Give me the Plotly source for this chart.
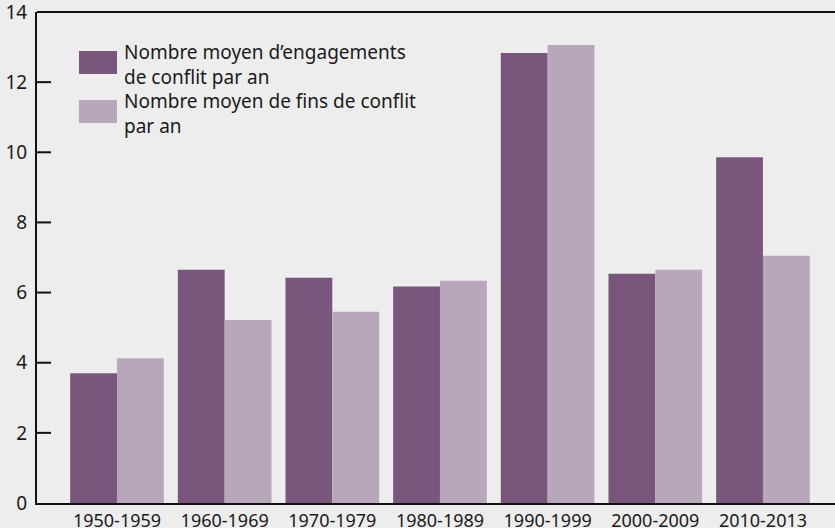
import plotly.graph_objects as go

periods = ["1950-1959", "1960-1969", "1970-1979", "1980-1989", "1990-1999", "2000-2009", "2010-2013"]
engagements = [3.7, 6.65, 6.42, 6.17, 12.83, 6.54, 9.86]
fins = [4.13, 5.22, 5.45, 6.34, 13.06, 6.65, 7.05]
series_names = ["Nombre moyen d’engagements<br>de conflit par an", "Nombre moyen de fins de conflit<br>par an"]
colors = ["#79577c", "#b8a7bb"]
y_ticks = [0, 2, 4, 6, 8, 10, 12, 14]

FONT = "Noto Sans"
BG = "#ededed"
INK = "#1a1a1a"

fig = go.Figure()
fig.add_trace(go.Bar(x=periods, y=engagements, name=series_names[0], marker=dict(color=colors[0], line_width=0)))
fig.add_trace(go.Bar(x=periods, y=fins, name=series_names[1], marker=dict(color=colors[1], line_width=0)))

fig.update_layout(
    width=835, height=528,
    margin=dict(l=37, r=0, t=12, b=25, autoexpand=False),
    paper_bgcolor=BG, plot_bgcolor=BG,
    barmode="group", bargap=0.13, bargroupgap=0,
    showlegend=False,
    font=dict(family=FONT, size=18, color=INK),
    xaxis=dict(range=[-0.743, 6.669], showline=True, linecolor="#111", linewidth=2,
               ticks="", showgrid=False, zeroline=False, tickfont=dict(family=FONT, size=18, color=INK),
               automargin=False),
    yaxis=dict(range=[0, 14], tickmode="array", tickvals=y_ticks, showline=True, linecolor="#111", linewidth=2,
               ticks="", ticklabeloverflow="allow", ticklabelstandoff=4,
               showgrid=False, zeroline=False, tickfont=dict(family=FONT, size=19, color=INK),
               automargin=False),
)

pw = 835 - 37
ph = 528 - 12 - 25
def px(pix):
    return (pix - 37) / pw
def py(pix):
    return 1 - (pix - 12) / ph

# top border line
fig.add_shape(type="line", xref="paper", yref="paper", x0=0, x1=1, y0=1, y1=1,
              line=dict(color="#111", width=2))

# y tick marks (inside), placed at tick values via the y axis
for v in y_ticks[1:-1]:
    fig.add_shape(type="line", xref="paper", yref="y", x0=0, x1=14 / pw, y0=v, y1=v,
                  line=dict(color="#111111", width=2), layer="above")

# manual legend
swatches = [(51, 74), (100, 123)]
for i, (t, b) in enumerate(swatches):
    fig.add_shape(type="rect", xref="paper", yref="paper", x0=px(79), x1=px(117), y0=py(b), y1=py(t),
                  fillcolor=colors[i], line_width=0)
    fig.add_annotation(xref="paper", yref="paper", x=px(122), y=py(t - 14), xanchor="left", yanchor="top",
                       text=series_names[i], showarrow=False, align="left",
                       font=dict(family=FONT, size=19, color=INK))

fig.write_html("out.html", config={"displayModeBar": False},
               post_script="document.body.style.margin='0';document.body.style.background='#ededed';")
